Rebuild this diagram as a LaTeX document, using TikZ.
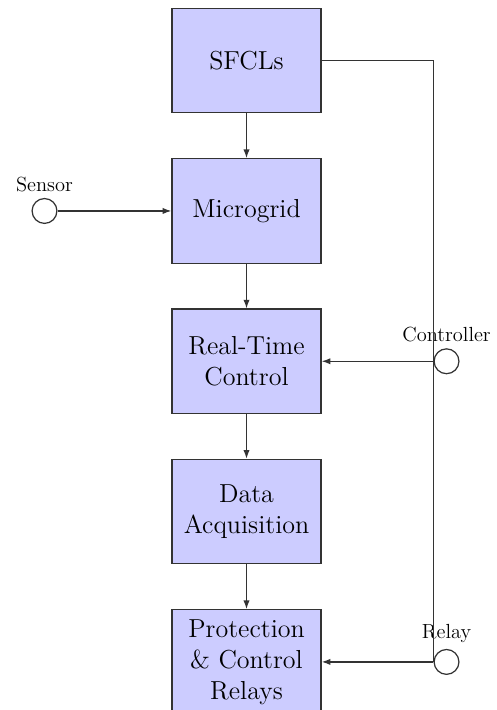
\documentclass[tikz,border=0pt]{standalone}
\usetikzlibrary{arrows.meta,positioning}
\tikzset{
  >={Latex[length=5pt,width=3.6pt]},
  block/.style={draw=black!80,fill=blue!20,line width=0.7pt,
    minimum width=3cm,minimum height=2.1cm,align=center,
    font=\fontsize{14.9}{17.8}\selectfont},
  port/.style={circle,draw=black!80,fill=white,line width=0.7pt,
    minimum size=0.5cm,inner sep=0pt,label distance=0.05cm},
  tag/.style={font=\fontsize{11.7}{14}\selectfont},
  link/.style={->,draw=black!80,line width=0.7pt},
}
\begin{document}
\begin{tikzpicture}
  \useasboundingbox (0,0) rectangle (10,-14.286);
  % main chain of blocks
  \node[block] (sfcl) at (4.96,-1.22) {SFCLs};
  \node[block,below=0.9cm of sfcl] (grid) {Microgrid};
  \node[block,below=0.9cm of grid] (rtc) {Real-Time\\Control};
  \node[block,below=0.9cm of rtc] (daq) {Data\\Acquisition};
  \node[block,below=0.9cm of daq] (prot) {Protection\\\& Control\\Relays};
  \foreach \a/\b in {sfcl/grid,grid/rtc,rtc/daq,daq/prot}
    \draw[link] (\a) -- (\b);
  % side ports
  \node[port,left=2.29cm of grid,label={[tag]above:Sensor}] (sensor) {};
  \node[port,right=2.25cm of rtc,label={[tag]above:Controller}] (ctrl) {};
  \node[port,right=2.25cm of prot,label={[tag]above:Relay}] (relay) {};
  \draw[link] (sensor) -- (grid);
  \draw[black!80,line width=0.7pt] (sfcl.east) -| (relay.west);
  \draw[link] (ctrl.west) -- (rtc);
  \draw[link] (relay.west) -- (prot);
\end{tikzpicture}
\end{document}
